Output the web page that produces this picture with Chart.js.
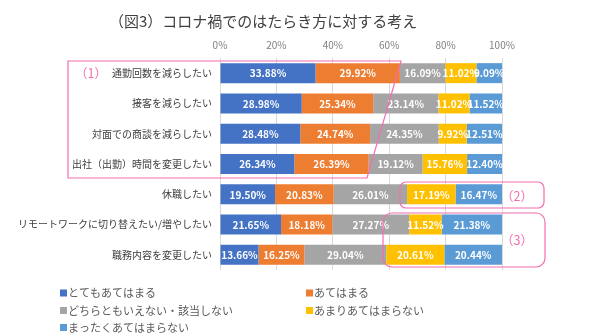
<!DOCTYPE html>
<html lang="ja">
<head>
<meta charset="utf-8">
<script src="https://cdn.jsdelivr.net/npm/chart.js@4/dist/chart.umd.min.js"></script>
<style>
  html, body { margin: 0; padding: 0; background: #ffffff; }
  #wrap { position: relative; width: 600px; height: 336px; }
</style>
</head>
<body>
<div id="wrap"><canvas id="chart" width="600" height="336"></canvas></div>
<script>
// 回答項目
const categories = [
  '通勤回数を減らしたい',
  '接客を減らしたい',
  '対面での商談を減らしたい',
  '出社（出勤）時間を変更したい',
  '休職したい',
  'リモートワークに切り替えたい/増やしたい',
  '職務内容を変更したい'
];

// 回答の選択肢
const seriesNames = [
  'とてもあてはまる',
  'あてはまる',
  'どちらともいえない・該当しない',
  'あまりあてはまらない',
  'まったくあてはまらない'
];

// 各選択肢の割合（％）
const veryTrue   = [33.88, 28.98, 28.48, 26.34, 19.50, 21.65, 13.66];
const someTrue   = [29.92, 25.34, 24.74, 26.39, 20.83, 18.18, 16.25];
const neutral    = [16.09, 23.14, 24.35, 19.12, 26.01, 27.27, 29.04];
const notReally  = [11.02, 11.02,  9.92, 15.76, 17.19, 11.52, 20.61];
const notAtAll   = [ 9.09, 11.52, 12.51, 12.40, 16.47, 21.38, 20.44];

const tickValues = [0, 20, 40, 60, 80, 100];

const colors = ['#4472C4', '#ED7D31', '#A5A5A5', '#FFC000', '#5B9BD5'];
const seriesValues = [veryTrue, someTrue, neutral, notReally, notAtAll];

const JP = '"Noto Sans CJK JP", "Noto Sans", sans-serif';
const PINK = '#F26FB0';

// 各区間の中央に値を白文字で描く
const segmentLabels = {
  id: 'segmentLabels',
  afterDatasetsDraw(chart) {
    const ctx = chart.ctx;
    ctx.save();
    ctx.fillStyle = '#ffffff';
    ctx.font = 'bold 10px ' + JP;
    ctx.textAlign = 'center';
    ctx.textBaseline = 'middle';
    chart.data.datasets.forEach((ds, i) => {
      const meta = chart.getDatasetMeta(i);
      meta.data.forEach((bar, j) => {
        const cx = (bar.x + bar.base) / 2;
        ctx.fillText(ds.data[j].toFixed(2) + '%', cx, bar.y + 0.5);
      });
    });
    ctx.restore();
  }
};

// タイトル・凡例・注記枠
const decorations = {
  id: 'decorations',
  afterDraw(chart) {
    const ctx = chart.ctx;
    ctx.save();

    // タイトル
    ctx.fillStyle = '#404040';
    ctx.font = '15px ' + JP;
    ctx.textAlign = 'left';
    ctx.textBaseline = 'middle';
    ctx.fillText('（図3）コロナ禍でのはたらき方に対する考え', 109, 21);

    // 凡例（2列）
    const cols = [60, 306];
    const rows = [293, 310.5, 327.5];
    ctx.font = '11px ' + JP;
    chart.data.datasets.forEach((ds, i) => {
      const x = cols[i % 2];
      const y = rows[Math.floor(i / 2)];
      ctx.fillStyle = ds.backgroundColor;
      ctx.fillRect(x, y - 3.5, 7, 7);
      ctx.fillStyle = '#595959';
      ctx.fillText(ds.label, x + 8, y);
    });

    // 注記枠
    ctx.strokeStyle = PINK;
    ctx.lineWidth = 1.2;
    ctx.beginPath();
    ctx.moveTo(68, 61);
    ctx.lineTo(401, 61);
    ctx.lineTo(367, 178);
    ctx.lineTo(68, 178);
    ctx.closePath();
    ctx.stroke();

    const roundBox = (x, y, w, h, r) => {
      ctx.beginPath();
      ctx.roundRect(x, y, w, h, r);
      ctx.stroke();
    };
    roundBox(400, 182, 144, 26, 6);
    roundBox(383, 213, 162, 54, 9);

    ctx.fillStyle = PINK;
    ctx.font = '12.5px ' + JP;
    ctx.textAlign = 'center';
    ctx.fillText('（1）', 91, 73.5);
    ctx.fillText('（2）', 517, 196);
    ctx.fillText('（3）', 517, 240);
    ctx.restore();
  }
};

new Chart(document.getElementById('chart'), {
  type: 'bar',
  data: {
    labels: categories,
    datasets: seriesNames.map((name, i) => ({
      label: name,
      data: seriesValues[i],
      backgroundColor: colors[i],
      borderWidth: 0,
      categoryPercentage: 1,
      barPercentage: 0.66
    }))
  },
  options: {
    indexAxis: 'y',
    responsive: false,
    animation: false,
    devicePixelRatio: 1,
    layout: { padding: { top: 0, right: 98, bottom: 66, left: 0 } },
    plugins: {
      legend: { display: false },
      tooltip: { enabled: false },
      title: { display: false }
    },
    scales: {
      x: {
        position: 'top',
        stacked: true,
        min: 0,
        max: 100,
        afterBuildTicks(scale) {
          scale.ticks = tickValues.map(v => ({ value: v }));
        },
        afterFit(scale) { scale.height = 58; },
        ticks: {
          padding: 7,
          color: '#7F7F7F',
          font: { family: JP, size: 10 },
          callback: v => v + '%'
        },
        grid: { color: '#D9D9D9', lineWidth: 1, drawTicks: false },
        border: { display: false }
      },
      y: {
        stacked: true,
        afterFit(scale) { scale.width = 220; },
        ticks: {
          padding: 8,
          color: '#404040',
          font: { family: JP, size: 10 }
        },
        grid: { display: false, drawTicks: false },
        border: { display: false }
      }
    }
  },
  plugins: [segmentLabels, decorations]
});
</script>
</body>
</html>
